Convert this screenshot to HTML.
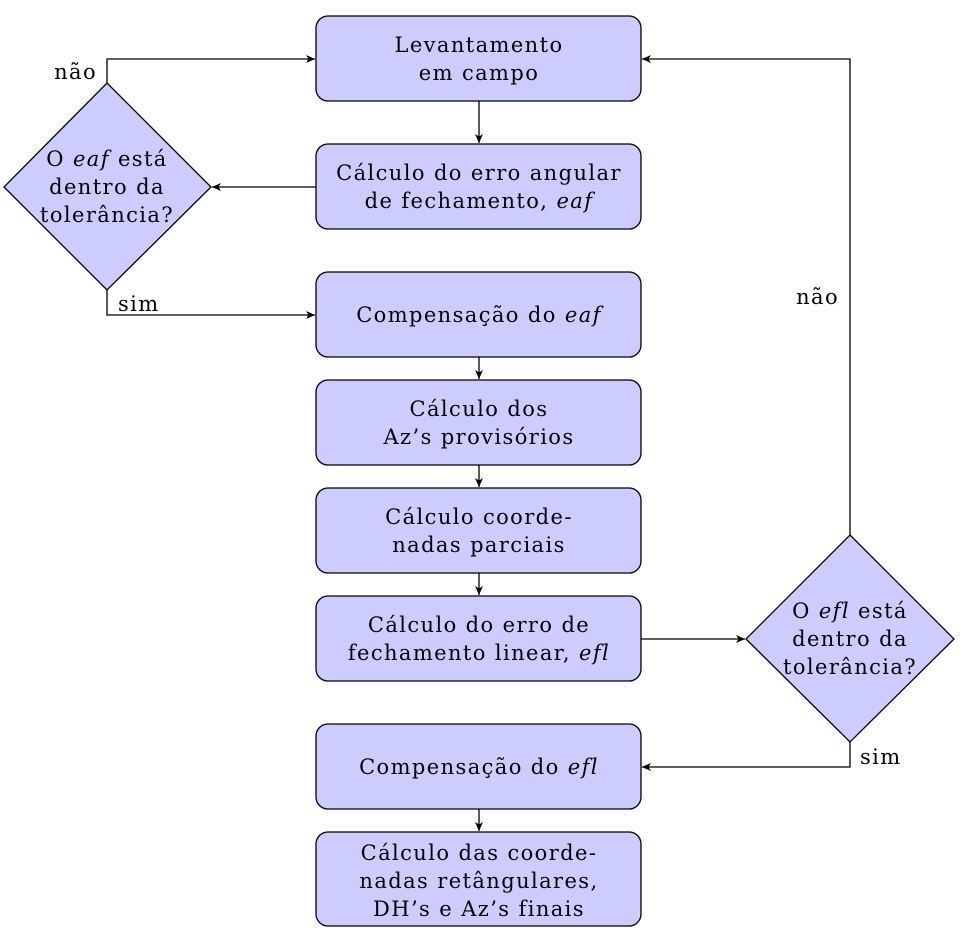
<!DOCTYPE html>
<html><head><meta charset="utf-8"><style>
html,body{margin:0;padding:0;background:#fff;}
svg{display:block;}
text{font-family:"DejaVu Serif","Liberation Serif",serif;font-size:21px;letter-spacing:1.4px;fill:#000;}
</style></head><body>
<svg width="976" height="944" viewBox="0 0 976 944" xmlns="http://www.w3.org/2000/svg">
<defs>
<marker id="a" markerWidth="10" markerHeight="8" refX="9" refY="4" orient="auto" markerUnits="userSpaceOnUse">
<path d="M0,0 L9,4 L0,8 L2.5,4 Z" fill="#000"/>
</marker>
</defs>
<g fill="#ccccff" stroke="#000" stroke-width="1.3">
<rect x="316" y="16" width="325" height="85" rx="12"/>
<rect x="316" y="144" width="325" height="85" rx="12"/>
<rect x="316" y="272" width="325" height="85" rx="12"/>
<rect x="316" y="380" width="325" height="85" rx="12"/>
<rect x="316" y="488" width="325" height="85" rx="12"/>
<rect x="316" y="596" width="325" height="85" rx="12"/>
<rect x="316" y="724" width="325" height="85" rx="12"/>
<rect x="316" y="832" width="325" height="94" rx="12"/>
<polygon points="107,83 211,187 107,290 4,187"/>
<polygon points="850,535 954,639 850,742 746,639"/>
</g>
<g stroke="#000" stroke-width="1.3" fill="none" marker-end="url(#a)">
<path d="M479,101 V143"/>
<path d="M479,357 V379"/>
<path d="M479,465 V487"/>
<path d="M479,573 V595"/>
<path d="M479,809 V831"/>
<path d="M316,187 H212"/>
<path d="M107,83 V59 H315"/>
<path d="M107,290 V315 H315"/>
<path d="M641,639 H745"/>
<path d="M850,535 V59 H642"/>
<path d="M850,742 V767 H642"/>
</g>
<g text-anchor="middle">
<text x="479" y="52">Levantamento</text>
<text x="479" y="80">em campo</text>
<text x="479" y="180">Cálculo do erro angular</text>
<text x="479" y="208">de fechamento, <tspan font-style="italic">eaf</tspan></text>
<text x="479" y="322">Compensação do <tspan font-style="italic">eaf</tspan></text>
<text x="479" y="416">Cálculo dos</text>
<text x="479" y="444">Az’s provisórios</text>
<text x="479" y="524">Cálculo coorde-</text>
<text x="479" y="552">nadas parciais</text>
<text x="479" y="632">Cálculo do erro de</text>
<text x="479" y="660">fechamento linear, <tspan font-style="italic">efl</tspan></text>
<text x="479" y="774">Compensação do <tspan font-style="italic">efl</tspan></text>
<text x="479" y="860">Cálculo das coorde-</text>
<text x="479" y="888">nadas retângulares,</text>
<text x="479" y="916">DH’s e Az’s finais</text>
<text x="107" y="166">O <tspan font-style="italic">eaf</tspan> está</text>
<text x="107" y="194">dentro da</text>
<text x="107" y="222">tolerância?</text>
<text x="850" y="618">O <tspan font-style="italic">efl</tspan> está</text>
<text x="850" y="646">dentro da</text>
<text x="850" y="674">tolerância?</text>
</g>
<text x="97" y="79" text-anchor="end">não</text>
<text x="118" y="311">sim</text>
<text x="839" y="304" text-anchor="end">não</text>
<text x="860" y="764">sim</text>
</svg>
</body></html>
